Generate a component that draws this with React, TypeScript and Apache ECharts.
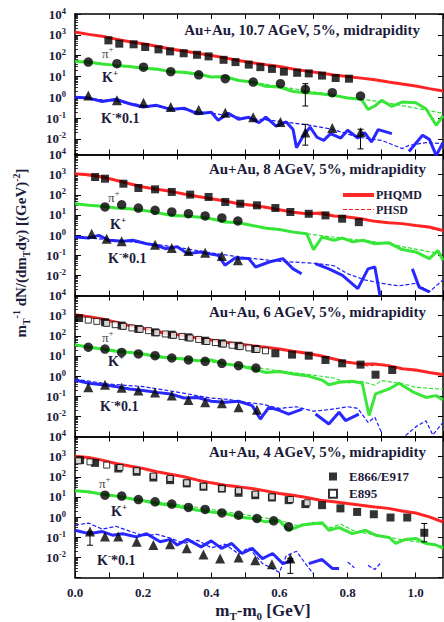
import React, { useEffect, useRef } from "react";
import * as echarts from "echarts";

type Pt = [number, number | null];

// ---------- axis ticks ----------
const X_TICK_LABELS = ["0.0", "0.2", "0.4", "0.6", "0.8", "1.0"];
const TITLES = [
  "Au+Au, 10.7 AGeV, 5%, midrapidity",
  "Au+Au, 8 AGeV, 5%, midrapidity",
  "Au+Au, 6 AGeV, 5%, midrapidity",
  "Au+Au, 4 AGeV, 5%, midrapidity",
];

// ---------- Panel 1: 10.7 AGeV ----------
const P1_PI_E866: Pt[] = [[0.098,540],[0.130,375],[0.172,350],[0.206,260],[0.245,200],[0.279,160],[0.319,130],[0.358,110],[0.392,92],[0.436,63],[0.471,49],[0.510,37],[0.544,28],[0.578,23],[0.613,17],[0.652,15],[0.686,14],[0.725,11],[0.765,8.4],[0.804,7.8]];
const P1_KP_E866: Pt[] = [[0.039,49],[0.123,41],[0.201,28],[0.281,17],[0.363,12],[0.441,7.8],[0.523,5.4],[0.603,4.5],[0.676,2.4],[0.755,1.66],[0.838,1.15]];
const P1_KM_E866: Pt[] = [[0.039,1.23],[0.123,0.71],[0.201,0.55],[0.281,0.34],[0.363,0.25],[0.441,0.18],[0.523,0.11],[0.603,0.065],[0.676,0.02],[0.755,0.033],[0.838,0.021]];
const P1_ERR: [number, number, number][] = [[0.676,0.38,4.5],[0.676,0.005,0.05],[0.838,0.0033,0.029]];
const P1_PI_PHQMD: Pt[] = [[0,1350],[0.04,1050],[0.08,850],[0.12,620],[0.16,460],[0.2,370],[0.24,280],[0.28,210],[0.32,165],[0.36,130],[0.4,102],[0.44,78],[0.48,58],[0.52,46],[0.56,37],[0.6,30],[0.64,23],[0.68,18],[0.72,14.5],[0.76,11.7],[0.8,10],[0.84,8.3],[0.88,6.9],[0.92,5.4],[0.96,4.3],[1.0,3.5],[1.04,2.6],[1.08,2.0]];
const P1_PI_PHSD: Pt[] = [[0,1300],[0.05,1000],[0.1,720],[0.15,500],[0.2,360],[0.3,170],[0.4,100],[0.5,52],[0.6,29],[0.7,16],[0.8,9.8],[0.9,6.2],[1.0,3.4],[1.08,2.1]];
const P1_KP_PHQMD: Pt[] = [[0,52],[0.04,49],[0.08,40],[0.12,34],[0.16,30],[0.2,25],[0.24,23],[0.28,17],[0.32,16],[0.36,13],[0.4,9.4],[0.44,10],[0.48,6.4],[0.52,5.4],[0.56,3.4],[0.6,3.1],[0.64,1.9],[0.68,1.65],[0.72,1.48],[0.76,1.23],[0.8,0.92],[0.84,0.8],[0.86,0.26],[0.88,0.38],[0.9,0.71],[0.93,0.36],[0.96,0.59],[1.0,0.55],[1.03,0.28],[1.06,0.045],[1.08,0.13]];
const P1_KP_PHSD: Pt[] = [[0,50],[0.1,36],[0.2,24],[0.3,16],[0.4,10],[0.5,6],[0.6,3.3],[0.7,1.8],[0.8,1.0],[0.9,0.6],[1.0,0.3],[1.08,0.17]];
const P1_KM_PHQMD: Pt[] = [[0,1.0],[0.04,0.91],[0.08,0.63],[0.12,0.8],[0.16,0.49],[0.2,0.34],[0.24,0.41],[0.28,0.26],[0.32,0.3],[0.36,0.16],[0.4,0.19],[0.42,0.078],[0.45,0.17],[0.48,0.087],[0.51,0.11],[0.54,0.06],[0.56,0.11],[0.59,0.041],[0.62,0.065],[0.64,0.028],[0.65,0.0038],[0.67,0.014],[0.69,0.037],[0.71,0.012],[0.73,0.0085],[0.75,0.018],[0.78,0.011],[0.8,0.026],[0.83,0.011],[0.85,0.02],[0.87,0.0071],[0.89,0.028],[0.93,0.018],[0.95,null],[0.98,0.0025],[1.02,0.015],[1.04,0.0095],[1.06,0.0016],[1.08,0.0065]];
const P1_KM_PHSD: Pt[] = [[0,1.0],[0.1,0.7],[0.2,0.42],[0.3,0.28],[0.4,0.17],[0.5,0.1],[0.6,0.07],[0.69,0.045],[0.755,0.029],[0.83,0.012],[0.9,0.0085],[0.96,0.0034],[0.98,0.0049],[1.03,0.0066],[1.08,0.006]];

// ---------- Panel 2: 8 AGeV ----------
const P2_PI_E866: Pt[] = [[0.059,760],[0.088,630],[0.142,355],[0.186,217],[0.235,187],[0.284,138],[0.338,102],[0.392,78],[0.441,44],[0.485,36],[0.534,30],[0.588,22],[0.632,14],[0.686,11.4],[0.735,9.5],[0.784,6.5],[0.833,4.4]];
const P2_KP_E866: Pt[] = [[0.088,25],[0.137,32],[0.186,22],[0.235,17],[0.284,14],[0.333,11.5],[0.382,8.9],[0.431,7.1],[0.478,5.0]];
const P2_KM_E866: Pt[] = [[0.049,1.17],[0.093,0.66],[0.137,0.49],[0.235,0.33],[0.284,0.23],[0.333,0.16],[0.382,0.134],[0.431,0.092],[0.478,0.056]];
const P2_PI_PHQMD: Pt[] = [[0,1120],[0.04,1000],[0.08,760],[0.12,525],[0.16,355],[0.2,245],[0.24,187],[0.28,148],[0.32,110],[0.36,83],[0.4,64],[0.44,49],[0.48,36],[0.52,30],[0.56,24],[0.6,18],[0.64,13.5],[0.68,11.5],[0.72,12.5],[0.76,8.9],[0.8,7.9],[0.84,6.5],[0.88,4.8],[0.92,4.1],[0.96,3.7],[1.0,3.0],[1.04,2.5],[1.08,1.7]];
const P2_PI_PHSD: Pt[] = [[0,1100],[0.1,620],[0.2,250],[0.3,125],[0.4,62],[0.5,33],[0.6,18],[0.7,11],[0.8,7.5],[0.9,4.6],[1.0,3.1],[1.08,1.6]];
const P2_KP_PHQMD: Pt[] = [[0,36],[0.04,30],[0.08,27],[0.12,22],[0.16,20],[0.2,17],[0.24,13],[0.28,9.5],[0.32,8.9],[0.36,7.9],[0.4,6.5],[0.44,4.4],[0.48,4.1],[0.52,3.0],[0.56,2.2],[0.6,1.9],[0.64,1.4],[0.68,1.17],[0.7,0.19],[0.725,0.79],[0.76,0.55],[0.785,0.71],[0.815,0.46],[0.845,0.55],[0.88,0.37],[0.92,0.42],[0.96,0.19],[1.0,0.145],[1.04,0.068],[1.065,0.17],[1.08,0.056]];
const P2_KP_PHSD: Pt[] = [[0,35],[0.1,25],[0.2,16],[0.3,10],[0.4,6.5],[0.5,3.5],[0.6,1.9],[0.7,1.05],[0.8,0.65],[0.9,0.42],[1.0,0.2],[1.08,0.11]];
const P2_KM_PHQMD: Pt[] = [[0,0.8],[0.04,0.71],[0.07,0.97],[0.1,0.55],[0.14,0.49],[0.17,0.55],[0.21,0.37],[0.24,0.31],[0.265,0.21],[0.3,0.26],[0.33,0.12],[0.37,0.145],[0.39,0.12],[0.42,0.1],[0.44,0.032],[0.47,0.073],[0.51,0.068],[0.53,0.026],[0.57,0.046],[0.61,0.068],[0.64,0.021],[0.665,0.012],[0.685,null],[0.705,0.038],[0.745,0.021],[0.785,0.01],[0.83,0.0022],[0.86,0.021],[0.88,0.026],[0.895,0.001],[0.93,null],[0.99,0.021],[1.01,0.0026],[1.04,0.0015]];
const P2_KM_PHSD: Pt[] = [[0,0.8],[0.1,0.6],[0.2,0.4],[0.3,0.25],[0.4,0.13],[0.5,0.075],[0.6,0.05],[0.7,0.04],[0.76,0.03],[0.8,0.012],[0.85,0.006],[0.9,0.004],[0.95,0.003],[1.0,0.004],[1.04,0.0015],[1.08,0.006]];

// ---------- Panel 3: 6 AGeV ----------
const P3_PI_E866: Pt[] = [[0.012,760],[0.088,470],[0.137,320],[0.186,218],[0.235,148],[0.284,114],[0.333,84],[0.382,57],[0.431,42],[0.48,32],[0.529,22],[0.588,13.5],[0.637,11.6],[0.686,10.3],[0.735,6.3],[0.784,4.3],[0.838,3.7],[0.882,1.17],[0.931,2.0]];
const P3_PI_E895: Pt[] = [[0.039,600],[0.064,520],[0.093,415],[0.118,355],[0.142,295],[0.167,245],[0.191,210],[0.216,180],[0.24,142],[0.265,123],[0.289,105],[0.314,93],[0.338,78],[0.363,66],[0.387,52],[0.412,46],[0.436,39],[0.461,34],[0.485,29],[0.51,25],[0.534,21],[0.559,18]];
const P3_KP_E866: Pt[] = [[0.039,27],[0.088,22],[0.137,15],[0.186,12.5],[0.235,10.3],[0.284,7.9],[0.333,6.3],[0.382,5.4],[0.431,4.3],[0.48,3.3],[0.531,2.5]];
const P3_KM_E866: Pt[] = [[0.039,0.28],[0.088,0.37],[0.137,0.26],[0.186,0.19],[0.235,0.155],[0.284,0.107],[0.333,0.065],[0.382,0.05],[0.431,0.045],[0.48,0.028],[0.534,0.021]];
const P3_PI_PHQMD: Pt[] = [[0,1120],[0.04,890],[0.08,680],[0.12,470],[0.16,320],[0.2,235],[0.24,165],[0.28,123],[0.32,102],[0.36,78],[0.4,62],[0.44,48],[0.48,39],[0.52,32],[0.56,27],[0.6,22],[0.64,17],[0.68,13.5],[0.72,10.3],[0.76,7.0],[0.8,4.8],[0.84,4.0],[0.88,4.0],[0.92,3.3],[0.96,2.3],[1.0,2.0],[1.04,1.5],[1.08,1.17]];
const P3_PI_PHSD: Pt[] = [[0,1100],[0.1,560],[0.2,230],[0.3,110],[0.4,60],[0.5,36],[0.6,21],[0.7,12],[0.8,5.2],[0.86,3.2],[0.9,3.8],[0.96,2.4],[1.0,1.8],[1.08,1.3]];
const P3_KP_PHQMD: Pt[] = [[0,36],[0.04,27],[0.08,22],[0.12,17],[0.16,15],[0.2,12.5],[0.24,9.2],[0.28,7.9],[0.32,7.0],[0.36,5.8],[0.4,6.3],[0.44,4.0],[0.48,3.3],[0.52,2.3],[0.56,1.5],[0.6,1.7],[0.64,1.26],[0.68,1.05],[0.725,0.63],[0.745,0.37],[0.775,0.49],[0.814,0.55],[0.843,0.44],[0.863,0.011],[0.882,0.13],[0.922,0.23],[0.951,0.44],[0.99,0.17],[1.03,0.087],[1.06,0.107],[1.08,0.065]];
const P3_KP_PHSD: Pt[] = [[0,36],[0.1,22],[0.2,13],[0.3,8],[0.4,5],[0.5,3.2],[0.6,1.8],[0.7,1.1],[0.76,0.8],[0.8,0.45],[0.84,0.55],[0.88,0.35],[0.9,0.6],[0.96,0.42],[1.0,0.28],[1.08,0.22]];
const P3_KM_PHQMD: Pt[] = [[0,0.64],[0.04,0.44],[0.08,0.37],[0.12,0.3],[0.16,0.23],[0.2,0.19],[0.24,0.155],[0.28,0.13],[0.32,0.081],[0.36,0.087],[0.4,0.056],[0.44,0.05],[0.48,0.056],[0.52,0.034],[0.544,0.0074],[0.569,0.028],[0.6,0.02],[0.627,0.013],[0.667,0.023],[0.69,null],[0.706,0.013],[0.745,0.0042],[0.775,0.016],[0.794,0.0062],[0.833,0.013]];
const P3_KM_PHSD: Pt[] = [[0,0.7],[0.1,0.4],[0.2,0.3],[0.3,0.16],[0.4,0.08],[0.45,0.07],[0.5,0.05],[0.55,0.04],[0.6,0.025],[0.65,0.03],[0.7,0.018],[0.75,0.022],[0.8,0.03],[0.83,0.025],[0.86,0.005],[0.88,0.009],[0.9,0.0015],[0.93,null],[0.97,0.0011],[1.0,0.003],[1.03,0.006],[1.05,0.0012],[1.08,0.005]];

// ---------- Panel 4: 4 AGeV ----------
const P4_PI_E866: Pt[] = [[0.015,670],[0.059,490],[0.127,257],[0.181,177],[0.23,92],[0.279,68],[0.328,47],[0.377,32],[0.431,26],[0.48,16],[0.529,12.2],[0.578,9.4],[0.627,6.9],[0.676,4.4],[0.725,3.9],[0.779,2.7],[0.828,1.8],[0.877,1.38],[0.926,0.95],[0.975,0.95],[1.025,0.166]];
const P4_PI_E895: Pt[] = [[0.01,620],[0.044,550],[0.093,380],[0.132,290],[0.181,200],[0.23,108],[0.279,82],[0.328,50],[0.377,34],[0.431,26],[0.48,20],[0.529,13.8],[0.578,10],[0.632,7.4],[0.681,5.1]];
const P4_KP_E866: Pt[] = [[0.088,12.2],[0.137,11],[0.186,7.4],[0.235,5.7],[0.284,4.4],[0.333,3.0],[0.382,2.4],[0.431,1.6],[0.48,1.23],[0.534,0.85],[0.583,0.65],[0.627,0.33]];
const P4_KM_E866: Pt[] = [[0.044,0.19],[0.088,0.11],[0.127,0.11],[0.181,0.059],[0.23,0.041],[0.279,0.045],[0.328,0.028],[0.377,0.014],[0.426,0.0087],[0.48,0.0098],[0.529,0.0072],[0.578,0.0046],[0.632,0.0087]];
const P4_ERR: [number, number, number][] = [[1.025,0.059,0.48],[0.044,0.04,0.19],[0.632,0.0016,0.0087]];
const P4_PI_PHQMD: Pt[] = [[0,1050],[0.04,910],[0.08,670],[0.12,460],[0.16,340],[0.2,260],[0.24,177],[0.28,135],[0.32,100],[0.36,68],[0.4,50],[0.44,38],[0.48,31.6],[0.52,26],[0.56,20],[0.6,14.7],[0.64,12.2],[0.68,9.4],[0.72,6.9],[0.76,5.7],[0.8,4.7],[0.84,3.9],[0.88,3.2],[0.92,2.7],[0.96,2.0],[1.0,1.6],[1.04,1.02],[1.08,0.57]];
const P4_PI_PHSD: Pt[] = [[0,1000],[0.1,560],[0.2,250],[0.3,115],[0.4,50],[0.5,29],[0.6,14],[0.7,8],[0.8,4.6],[0.9,2.9],[1.0,1.5],[1.08,0.6]];
const P4_KP_PHQMD: Pt[] = [[0,20],[0.04,18],[0.08,13.7],[0.12,11],[0.16,8.4],[0.2,6.4],[0.24,4.7],[0.28,3.9],[0.32,3.0],[0.36,2.2],[0.4,1.8],[0.44,1.5],[0.48,1.02],[0.52,0.85],[0.56,0.58],[0.6,0.65],[0.627,0.22],[0.667,0.4],[0.725,0.52],[0.745,0.22],[0.775,0.3],[0.814,0.15],[0.853,0.22],[0.882,0.126],[0.922,0.097],[0.941,0.049],[0.97,0.078],[1.0,0.087],[1.03,0.049],[1.06,0.041],[1.08,0.028]];
const P4_KP_PHSD: Pt[] = [[0,20],[0.1,12],[0.2,7],[0.3,4.2],[0.4,2.4],[0.5,1.3],[0.6,0.7],[0.65,0.38],[0.7,0.55],[0.75,0.3],[0.78,0.45],[0.82,0.2],[0.86,0.15],[0.9,0.12],[0.95,0.08],[1.0,0.06],[1.05,0.045],[1.08,0.035]];
const P4_KM_PHQMD: Pt[] = [[0,0.22],[0.04,0.15],[0.08,0.19],[0.11,0.126],[0.14,0.15],[0.18,0.104],[0.21,0.15],[0.25,0.059],[0.28,0.078],[0.3,0.041],[0.33,0.078],[0.37,0.033],[0.4,0.066],[0.43,0.028],[0.46,0.049],[0.49,0.0155],[0.52,0.028],[0.55,0.0087],[0.58,0.0155],[0.61,0.0049],[0.64,0.0072],[0.66,null],[0.686,0.0049],[0.725,0.0078],[0.755,0.0028],[0.775,0.0028]];
const P4_KM_PHSD: Pt[] = [[0,0.4],[0.04,0.5],[0.08,0.25],[0.12,0.35],[0.16,0.2],[0.2,0.12],[0.24,0.14],[0.28,0.09],[0.32,0.05],[0.36,0.07],[0.4,0.03],[0.44,0.045],[0.48,0.015],[0.51,0.03],[0.55,0.005],[0.6,0.0018],[0.62,0.012],[0.65,0.02],[0.68,0.004],[0.7,0.0015],[0.72,null],[0.8,0.006],[0.82,0.003],[0.84,null],[0.86,0.004],[0.88,0.0025],[0.9,0.006]];

// ---------- assembly ----------
const PANEL_SETS = [
  { piF: P1_PI_E866, piO: null, kp: P1_KP_E866, km: P1_KM_E866, err: P1_ERR, piA: P1_PI_PHQMD, piB: P1_PI_PHSD, kpA: P1_KP_PHQMD, kpB: P1_KP_PHSD, kmA: P1_KM_PHQMD, kmB: P1_KM_PHSD },
  { piF: P2_PI_E866, piO: null, kp: P2_KP_E866, km: P2_KM_E866, err: [], piA: P2_PI_PHQMD, piB: P2_PI_PHSD, kpA: P2_KP_PHQMD, kpB: P2_KP_PHSD, kmA: P2_KM_PHQMD, kmB: P2_KM_PHSD },
  { piF: P3_PI_E866, piO: P3_PI_E895, kp: P3_KP_E866, km: P3_KM_E866, err: [], piA: P3_PI_PHQMD, piB: P3_PI_PHSD, kpA: P3_KP_PHQMD, kpB: P3_KP_PHSD, kmA: P3_KM_PHQMD, kmB: P3_KM_PHSD },
  { piF: P4_PI_E866, piO: P4_PI_E895, kp: P4_KP_E866, km: P4_KM_E866, err: P4_ERR, piA: P4_PI_PHQMD, piB: P4_PI_PHSD, kpA: P4_KP_PHQMD, kpB: P4_KP_PHSD, kmA: P4_KM_PHQMD, kmB: P4_KM_PHSD },
];

const LAYOUT = [
  { top: 14, height: 140.5, yMin: Math.pow(10, -2.75), titleX: 420, titleY: 30 },
  { top: 154.5, height: 141, yMin: 0.001, titleX: 426, titleY: 168.5 },
  { top: 295.5, height: 141, yMin: 0.001, titleX: 426, titleY: 312 },
  { top: 436.5, height: 141, yMin: 0.001, titleX: 426, titleY: 452 },
];

const RED = "#ff1e1e";
const GREEN = "#2ee52e";
const BLUE = "#1c1cff";
const INK = "#1c1c3a";
const SERIF = '"Liberation Serif", "DejaVu Serif", serif';

function clean(d: Pt[]) {
  return d.map(([x, y]) => [x, y == null ? "-" : y]);
}

function buildOption() {
  const grid: any[] = [];
  const xAxis: any[] = [];
  const yAxis: any[] = [];
  const series: any[] = [];

  const tickLine = { color: "#000", width: 1 };
  LAYOUT.forEach((L, i) => {
    grid.push({ left: 75, right: 1, top: L.top, height: L.height });
    const xBase = {
      gridIndex: i, type: "value", min: 0, max: 1.08, interval: 0.1,
      axisLine: { show: true, onZero: false, lineStyle: { color: "#000", width: 1.5 } },
      axisTick: { show: true, inside: true, length: 5, lineStyle: tickLine },
      splitLine: { show: false },
    };
    xAxis.push({
      ...xBase, position: "bottom",
      axisLabel: {
        show: i === 3, margin: 8, color: INK, fontFamily: SERIF, fontWeight: "bold", fontSize: 13,
        showMaxLabel: false,
        formatter: (v: number) => {
          const s = v.toFixed(1);
          return X_TICK_LABELS.includes(s) && Math.abs(v - parseFloat(s)) < 1e-6 ? s : "";
        },
      },
    });
    xAxis.push({ ...xBase, position: "top", axisLabel: { show: false } });
    const yBase = {
      gridIndex: i, type: "log", logBase: 10, min: L.yMin, max: 10000,
      axisLine: { show: true, onZero: false, lineStyle: { color: "#000", width: 1.5 } },
      splitLine: { show: false },
      minorSplitLine: { show: false },
    };
    yAxis.push({
      ...yBase, position: "left",
      axisTick: { show: true, inside: true, length: 6, lineStyle: tickLine },
      minorTick: { show: true, splitNumber: 9, length: 3, lineStyle: { color: "#000", width: 0.8 } },
      axisLabel: {
        show: true, margin: 9, showMinLabel: false,
        formatter: (v: number) => `{b|10}{s|${Math.round(Math.log10(v))}}`,
        rich: {
          b: { fontFamily: SERIF, fontWeight: "bold", fontSize: 13, color: INK, lineHeight: 16 },
          s: { fontFamily: SERIF, fontWeight: "bold", fontSize: 8.5, color: INK, lineHeight: 8, verticalAlign: "top" },
        },
      },
    });
    yAxis.push({
      ...yBase, position: "right",
      axisTick: { show: true, inside: true, length: 5, lineStyle: tickLine },
      axisLabel: { show: false },
    });
  });

  const lineS = (name: string, data: Pt[], color: string, dashed: boolean, i: number) => ({
    type: "line", name, xAxisIndex: 2 * i, yAxisIndex: 2 * i, data: clean(data),
    symbol: "none", showSymbol: false, connectNulls: false, silent: true, z: dashed ? 3 : 2,
    itemStyle: { color },
    lineStyle: dashed ? { color, width: 1.2, type: [4, 2] } : { color, width: 3, opacity: 0.95 },
  });
  const scat = (name: string, data: Pt[], symbol: string, size: number, i: number, open = false) => ({
    type: "scatter", name, xAxisIndex: 2 * i, yAxisIndex: 2 * i, data: clean(data),
    symbol, symbolSize: size, silent: true, z: 5,
    itemStyle: open ? { color: "#fff", borderColor: "#000", borderWidth: 1 } : { color: "#000" },
  });

  PANEL_SETS.forEach((P, i) => {
    series.push(lineS("PHQMD", P.piA, RED, false, i));
    series.push(lineS("PHSD", P.piB, RED, true, i));
    series.push(lineS("PHQMD", P.kpA, GREEN, false, i));
    series.push(lineS("PHSD", P.kpB, GREEN, true, i));
    series.push(lineS("PHQMD", P.kmA, BLUE, false, i));
    series.push(lineS("PHSD", P.kmB, BLUE, true, i));
    series.push(scat("E866/E917", P.piF, "rect", 8, i));
    if (P.piO) series.push(scat("E895", P.piO, "rect", 6, i, true));
    series.push(scat("K+ data", P.kp, "circle", 9.5, i));
    series.push(scat("K- data", P.km, "triangle", 10, i));
    if (P.err.length) {
      series.push({
        type: "custom", name: "err", xAxisIndex: 2 * i, yAxisIndex: 2 * i, silent: true, z: 4,
        data: P.err, encode: { x: 0, y: [1, 2] },
        renderItem: (_p: any, api: any) => {
          const x = api.value(0);
          const a = api.coord([x, api.value(1)]);
          const b = api.coord([x, api.value(2)]);
          const st = { stroke: "#000", lineWidth: 1 };
          return {
            type: "group",
            children: [
              { type: "line", shape: { x1: a[0], y1: a[1], x2: b[0], y2: b[1] }, style: st },
              { type: "line", shape: { x1: a[0] - 3, y1: a[1], x2: a[0] + 3, y2: a[1] }, style: st },
              { type: "line", shape: { x1: b[0] - 3, y1: b[1], x2: b[0] + 3, y2: b[1] }, style: st },
            ],
          };
        },
      });
    }
  });

  const txt = (x: number, y: number, text: string, rich: any, align = "left", font = `bold 14px ${SERIF}`, rotation = 0) => ({
    type: "text", x, y, rotation, silent: true, z: 20,
    style: { text, rich, font, fill: INK, align, verticalAlign: "middle", textAlign: align, textVerticalAlign: "middle" },
  });
  const partRich = {
    k: { fontFamily: SERIF, fontWeight: "bold", fontSize: 14, fill: INK, lineHeight: 18 },
    p: { fontFamily: SERIF, fontSize: 13, fill: "#444", lineHeight: 18 },
    s: { fontFamily: SERIF, fontWeight: "bold", fontSize: 9, fill: INK, lineHeight: 9, verticalAlign: "top" },
    sp: { fontFamily: SERIF, fontSize: 9, fill: "#444", lineHeight: 9, verticalAlign: "top" },
  };
  const PART_POS = [
    { pi: [102, 53], kp: [102, 77], km: [101, 118] },
    { pi: [108, 197], kp: [110, 224], km: [108, 258] },
    { pi: [102, 337], kp: [108, 361], km: [100, 406] },
    { pi: [99, 483], kp: [111, 511], km: [97, 560] },
  ];
  const graphic: any[] = [];
  LAYOUT.forEach((L, i) => {
    graphic.push(txt(L.titleX, L.titleY, TITLES[i], undefined, "right", `bold 15px ${SERIF}`));
    const pp = PART_POS[i];
    graphic.push(txt(pp.pi[0], pp.pi[1], "{p|π}{sp|+}", partRich));
    graphic.push(txt(pp.kp[0], pp.kp[1], "{k|K}{s|+}", partRich));
    graphic.push(txt(pp.km[0], pp.km[1], "{k|K}{s|-}{k|*0.1}", partRich));
  });
  const titleRich = {
    n: { fontFamily: SERIF, fontWeight: "bold", fontSize: 15, fill: INK, lineHeight: 20 },
    sub: { fontFamily: SERIF, fontWeight: "bold", fontSize: 10, fill: INK, lineHeight: 9, verticalAlign: "bottom" },
    sup: { fontFamily: SERIF, fontWeight: "bold", fontSize: 10, fill: INK, lineHeight: 9, verticalAlign: "top" },
  };
  graphic.push(txt(21, 253, "{n|m}{sub|T}{sup|-1}{n| dN/(dm}{sub|T}{n|dy) [(GeV)}{sup|-2}{n|]}", titleRich, "center", `bold 15px ${SERIF}`, Math.PI / 2));
  const xRich = {
    n: { fontFamily: SERIF, fontWeight: "bold", fontSize: 17, fill: INK, lineHeight: 22 },
    sub: { fontFamily: SERIF, fontWeight: "bold", fontSize: 11, fill: INK, lineHeight: 10, verticalAlign: "bottom" },
  };
  graphic.push(txt(263, 610, "{n|m}{sub|T}{n|-m}{sub|0}{n| [GeV]}", xRich, "center", `bold 17px ${SERIF}`));

  const legendText = { fontFamily: SERIF, fontWeight: "bold", color: INK };
  return {
    animation: false,
    backgroundColor: "#fff",
    grid, xAxis, yAxis, series, graphic,
    legend: [
      {
        data: [
          { name: "PHQMD", lineStyle: { width: 4, color: RED } },
          { name: "PHSD", lineStyle: { width: 1.2, color: RED } },
        ],
        orient: "vertical", left: 336, top: 183.5,
        itemWidth: 31, itemHeight: 10, itemGap: 1.5, itemStyle: { opacity: 0 }, selectedMode: false,
        textStyle: { ...legendText, fontSize: 12, lineHeight: 13, padding: [0, 0, 0, -3] },
      },
      {
        data: [{ name: "E866/E917", icon: "rect" }, { name: "E895", icon: "rect" }], orient: "vertical", left: 323, top: 465,
        itemWidth: 8, itemHeight: 8, itemGap: 4.3, selectedMode: false,
        textStyle: { ...legendText, fontSize: 13, lineHeight: 13, padding: [0, 0, 0, 7] },
      },
    ],
  };
}

export default function App() {
  const ref = useRef<HTMLDivElement>(null);
  useEffect(() => {
    const chart = echarts.init(ref.current!, undefined, { renderer: "svg" });
    chart.setOption(buildOption() as any);
    return () => chart.dispose();
  }, []);
  return (
    <div
      ref={ref}
      style={{ position: "fixed", left: 0, top: 0, width: 444, height: 622, background: "#fff" }}
    />
  );
}
